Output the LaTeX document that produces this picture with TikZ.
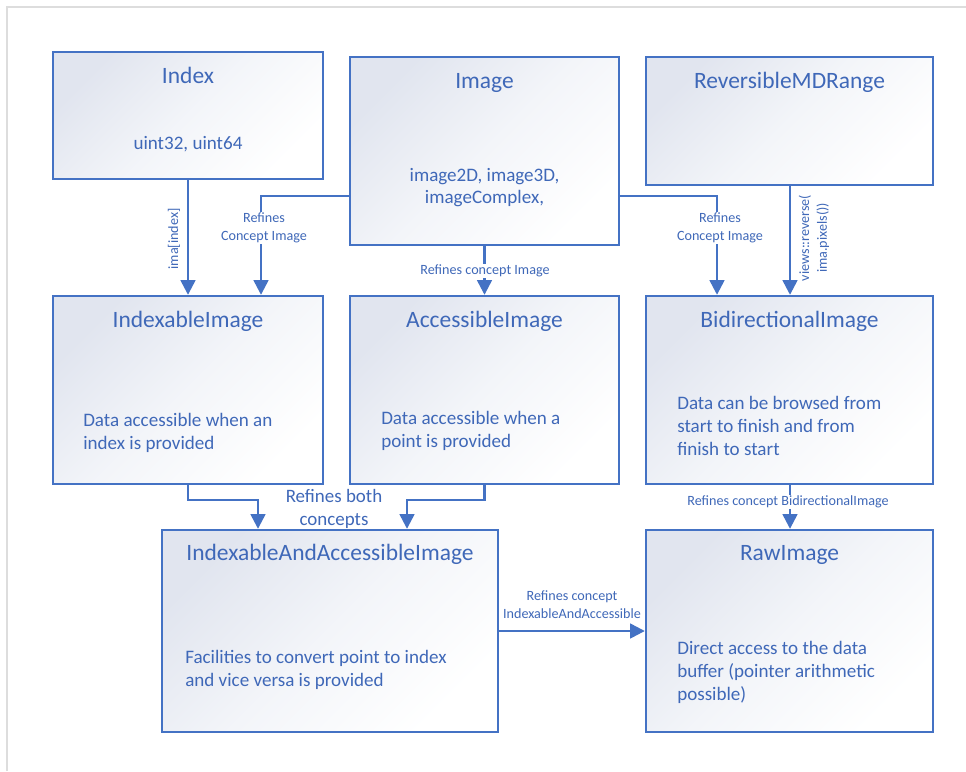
\documentclass[tikz,border=0pt]{standalone}
\usepackage{fontspec}
\setmainfont{Carlito}
\usetikzlibrary{arrows.meta,fit}
\definecolor{linecol}{HTML}{4472C4}
\definecolor{textcol}{HTML}{3F68B8}
\definecolor{boxtop}{HTML}{E1E5EF}
\definecolor{boxmid}{HTML}{F3F5F9}
\definecolor{framecol}{HTML}{DDDDDD}
\tikzset{
  box/.style={draw=linecol, line width=1.8pt, inner sep=0pt,
    top color=boxtop, bottom color=white, middle color=boxmid, shading angle=45},
  title/.style={text=textcol, font=\fontsize{17.6}{20}\selectfont, inner sep=0pt, anchor=base},
  body/.style={text=textcol, font=\fontsize{14.3}{16.9}\selectfont, inner sep=0pt,
    align=left, anchor=base west},
  lbl/.style={text=textcol, font=\fontsize{10.6}{13.4}\selectfont, inner sep=1pt, align=center},
  biglbl/.style={text=textcol, font=\fontsize{14.2}{17}\selectfont, inner sep=1pt, align=center},
  link/.style={draw=linecol, line width=1.8pt},
  arr/.style={link, -{Triangle[width=11pt,length=11pt]}},
}
\begin{document}
\begin{tikzpicture}[x=0.75pt, y=-0.75pt]
\useasboundingbox (0,0) rectangle (966,771);
\fill[white] (0,0) rectangle (966,771);
% thin frame along the top and left edges
\draw[framecol, line width=0.9pt] (7,771) -- (7,7) -- (966,7);

% boxes
\node[box, fit={(53,52) (323,179)}] (index) {};
\node[box, fit={(350,57) (619,245)}] (image) {};
\node[box, fit={(646,57) (933,185)}] (revrange) {};
\node[box, fit={(53,296) (323,484)}] (idximg) {};
\node[box, fit={(350,296) (619,484)}] (accimg) {};
\node[box, fit={(646,296) (933,484)}] (bidir) {};
\node[box, fit={(162,530) (498,732)}] (iaai) {};
\node[box, fit={(646,530) (933,732)}] (raw) {};

% titles
\node[title] (indexT) at (188,83) {Index};
\node[title] (imageT) at (484.5,88) {Image};
\node[title] (revT) at (789.5,88) {ReversibleMDRange};
\node[title] (idxT) at (188,327) {IndexableImage};
\node[title] (accT) at (484.5,327) {AccessibleImage};
\node[title] (bidirT) at (789.5,327) {BidirectionalImage};
\node[title] (iaaiT) at (330,560) {IndexableAndAccessibleImage};
\node[title] (rawT) at (789.5,560) {RawImage};

% descriptions (multi-line nodes are placed by the baseline of their last line)
\node[body, anchor=base, align=center] (indexB) at (188,149) {uint32, uint64};
\node[body, anchor=base, align=center] (imageB1) at (484.5,181) {image2D, image3D,};
\node[body, anchor=base, align=center] (imageB2) at (484.5,203) {imageComplex,};
\node[body] (idxB) at (83,449) {Data accessible when an\\index is provided};
\node[body] (accB) at (381,447) {Data accessible when a\\point is provided};
\node[body] (bidirB) at (677,455) {Data can be browsed from\\start to finish and from\\finish to start};
\node[body] (iaaiB) at (185,686) {Facilities to convert point to index\\and vice versa is provided};
\node[body] (rawB) at (677,700) {Direct access to the data\\buffer (pointer arithmetic\\possible)};

% bend points
\coordinate (bL) at (261,196);
\coordinate (bR) at (717,196);
\coordinate (bA) at (258,500);
\coordinate (bB) at (407,500);

% connectors
\draw[arr] (index) -- (idximg);
\draw[arr] (image.west |- bL) -- (bL) -- (bL |- idximg.north);
\draw[arr] (image) -- (accimg);
\draw[arr] (image.east |- bR) -- (bR) -- (bR |- bidir.north);
\draw[arr] (revrange.south -| 790,0) -- (bidir.north -| 790,0);
\draw[arr] (idximg) |- (bA) -- (bA |- iaai.north);
\draw[arr] (accimg) |- (bB) -- (bB |- iaai.north);
\draw[arr] (bidir.south -| 790,0) -- (raw.north -| 790,0);
\draw[arr] (iaai.east |- 0,631) -- (raw.west |- 0,631);

% connector labels
\node[lbl, rotate=90] (lIdx) at (174,239) {ima[index]};
\node[lbl, fill=white] (lRefL) at (264,228) {Refines\\Concept Image};
\node[lbl, fill=white] (lRefA) at (485,271) {Refines concept Image};
\node[lbl, fill=white] (lRefR) at (720,228) {Refines\\Concept Image};
\node[lbl, rotate=90] (lRev) at (814,238) {views::reverse(\\ima.pixels())};
\node[biglbl] (lBoth) at (334,509) {Refines both\\concepts};
\node[lbl, fill=white] (lBidir) at (788,502) {Refines concept BidirectionalImage};
\node[lbl] (lIaai) at (572,605) {Refines concept\\IndexableAndAccessible};
\end{tikzpicture}
\end{document}
